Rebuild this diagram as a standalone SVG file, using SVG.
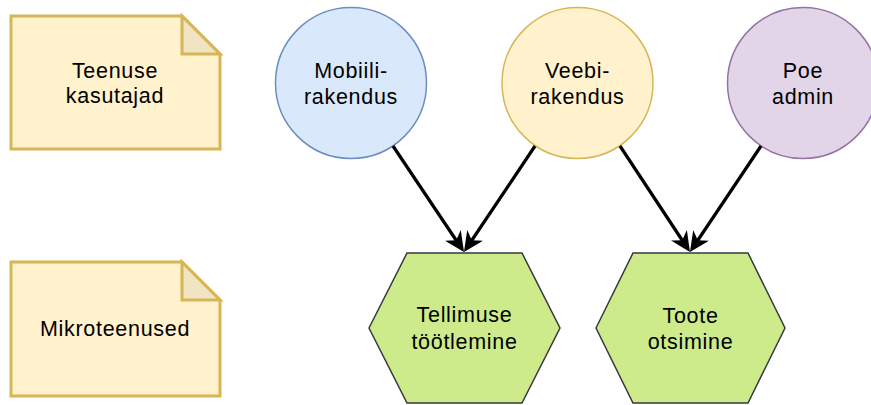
<svg xmlns="http://www.w3.org/2000/svg" width="871" height="405" viewBox="0 0 871 405">
  <style>
    .lbl { font-family: "Liberation Sans", Arial, Helvetica, sans-serif; font-size: 21.5px; letter-spacing: 0.7px; fill: #000; text-anchor: middle; }
    .note { fill: #fff2cc; stroke: #d6b656; stroke-width: 3; stroke-linejoin: miter; }
    .fold { fill: #f0e4c2; stroke: #d6b656; stroke-width: 3; stroke-linejoin: miter; }
    .hex { fill: #cdeb8b; stroke: #36393d; stroke-width: 1.5; }
    .edge { fill: none; stroke: #000; stroke-width: 3.2; marker-end: url(#arrow); }
  </style>
  <defs>
    <marker id="arrow" markerUnits="userSpaceOnUse" markerWidth="20" markerHeight="19" viewBox="0 0 20 19" refX="11" refY="9.5" orient="auto">
      <path d="M20,9.5 L0,0 L6,9.5 L0,19 Z" fill="#000"/>
    </marker>
  </defs>

  <rect width="871" height="405" fill="#ffffff"/>

  <!-- Legend notes -->
  <g id="note-teenuse-kasutajad">
    <path class="note" d="M11,16 H182 L220,54 V149 H11 Z"/>
    <path class="fold" d="M182,16 V54 H220 Z"/>
    <text class="lbl" x="115" y="77.5">Teenuse</text>
    <text class="lbl" x="115" y="102.5">kasutajad</text>
  </g>
  <g id="note-mikroteenused">
    <path class="note" d="M11,262 H182 L220,300 V396 H11 Z"/>
    <path class="fold" d="M182,262 V300 H220 Z"/>
    <text class="lbl" x="115" y="336">Mikroteenused</text>
  </g>

  <!-- Clients -->
  <g id="mobiilirakendus">
    <circle cx="351" cy="83" r="75.5" fill="#dae8fc" stroke="#6c8ebf" stroke-width="1.5"/>
    <text class="lbl" x="351" y="77.5">Mobiili-</text>
    <text class="lbl" x="351" y="103.5">rakendus</text>
  </g>
  <g id="veebirakendus">
    <circle cx="577.5" cy="83" r="75.5" fill="#fff2cc" stroke="#d6b656" stroke-width="1.5"/>
    <text class="lbl" x="577.5" y="77.5">Veebi-</text>
    <text class="lbl" x="577.5" y="103.5">rakendus</text>
  </g>
  <g id="poe-admin">
    <circle cx="803" cy="83" r="75.5" fill="#e1d5e7" stroke="#9673a6" stroke-width="1.5"/>
    <text class="lbl" x="803" y="77.5">Poe</text>
    <text class="lbl" x="803" y="103.5">admin</text>
  </g>

  <!-- Services -->
  <g id="tellimuse-tootlemine">
    <polygon class="hex" points="369,328 407,253 522,253 560,328 522,403 407,403"/>
    <text class="lbl" x="464.5" y="322">Tellimuse</text>
    <text class="lbl" x="464.5" y="348.5">töötlemine</text>
  </g>
  <g id="toote-otsimine">
    <polygon class="hex" points="596,328 633,253 748,253 785,328 748,403 633,403"/>
    <text class="lbl" x="690.5" y="322.5">Toote</text>
    <text class="lbl" x="690.5" y="349">otsimine</text>
  </g>

  <!-- Connectors -->
  <g id="connectors">
    <line class="edge" x1="393" y1="146" x2="459" y2="244.5"/>
    <line class="edge" x1="535" y1="146" x2="469" y2="244.5"/>
    <line class="edge" x1="620" y1="146" x2="685" y2="244.5"/>
    <line class="edge" x1="761" y1="146" x2="695" y2="244.5"/>
  </g>
</svg>
